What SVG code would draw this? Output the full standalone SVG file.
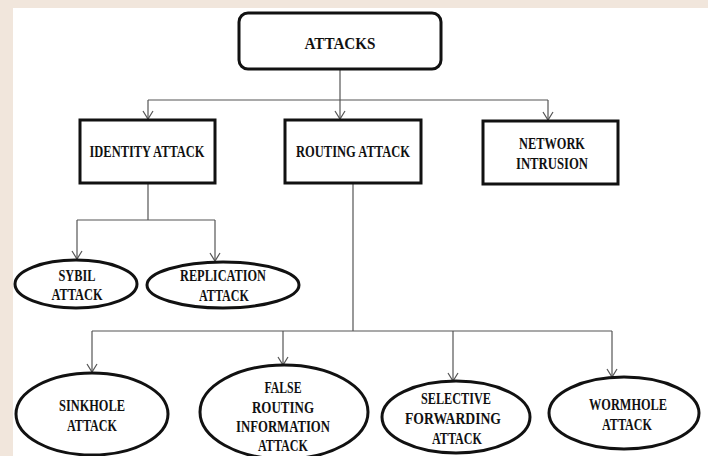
<svg xmlns="http://www.w3.org/2000/svg" width="708" height="456" viewBox="0 0 708 456">
<style>
.box{fill:#fff;stroke:#111;stroke-width:3}
.ell{fill:#fff;stroke:#111;stroke-width:3}
.ln{fill:none;stroke:#555;stroke-width:1.2}
text{font-family:"Liberation Serif","Times New Roman",serif;font-weight:bold;font-size:17px;fill:#111;text-anchor:middle;dominant-baseline:central}
</style>
<defs>
<marker id="arr" markerUnits="userSpaceOnUse" markerWidth="12" markerHeight="12" refX="10" refY="6" orient="auto" viewBox="0 0 12 12">
<path d="M2,1 L10,6 L2,11" fill="none" stroke="#555" stroke-width="1.2"/>
</marker>
</defs>
<rect x="0" y="0" width="708" height="456" fill="#f1e6dc"/>
<rect x="13" y="8" width="695" height="448" fill="#fff"/>
<g id="connectors">
<path class="ln" d="M340,69 V100"/>
<path class="ln" d="M148,100 H548"/>
<path class="ln" d="M148,100 V119" marker-end="url(#arr)"/>
<path class="ln" d="M340,100 V119" marker-end="url(#arr)"/>
<path class="ln" d="M548,100 V120" marker-end="url(#arr)"/>
<path class="ln" d="M148,184 V220 M77,220 H215"/>
<path class="ln" d="M77,220 V259" marker-end="url(#arr)"/>
<path class="ln" d="M215,220 V261" marker-end="url(#arr)"/>
<path class="ln" d="M353,184 V331 M92,331 H612"/>
<path class="ln" d="M92,331 V372" marker-end="url(#arr)"/>
<path class="ln" d="M283,331 V365" marker-end="url(#arr)"/>
<path class="ln" d="M453,331 V381" marker-end="url(#arr)"/>
<path class="ln" d="M612,331 V377" marker-end="url(#arr)"/>
</g>
<g id="attacks">
<rect class="box" x="239" y="13" width="202" height="56" rx="9"/>
<text x="340" y="43" textLength="71" lengthAdjust="spacingAndGlyphs">ATTACKS</text>
</g>
<g id="identity">
<rect class="box" x="80" y="120" width="135" height="63"/>
<text x="147" y="151" textLength="115" lengthAdjust="spacingAndGlyphs">IDENTITY ATTACK</text>
</g>
<g id="routing">
<rect class="box" x="285" y="120" width="136" height="63"/>
<text x="353" y="151" textLength="114" lengthAdjust="spacingAndGlyphs">ROUTING ATTACK</text>
</g>
<g id="network">
<rect class="box" x="483" y="121" width="135" height="63"/>
<text x="552" y="143" textLength="66" lengthAdjust="spacingAndGlyphs">NETWORK</text>
<text x="552" y="163" textLength="72" lengthAdjust="spacingAndGlyphs">INTRUSION</text>
</g>
<g id="sybil">
<ellipse class="ell" cx="76" cy="284" rx="61" ry="24"/>
<text x="77" y="275" textLength="37" lengthAdjust="spacingAndGlyphs">SYBIL</text>
<text x="77" y="294" textLength="51" lengthAdjust="spacingAndGlyphs">ATTACK</text>
</g>
<g id="replication">
<ellipse class="ell" cx="223" cy="285" rx="76" ry="23"/>
<text x="223" y="275" textLength="86" lengthAdjust="spacingAndGlyphs">REPLICATION</text>
<text x="224" y="295" textLength="50" lengthAdjust="spacingAndGlyphs">ATTACK</text>
</g>
<g id="sinkhole">
<ellipse class="ell" cx="92" cy="414" rx="76" ry="41"/>
<text x="92" y="405" textLength="66" lengthAdjust="spacingAndGlyphs">SINKHOLE</text>
<text x="92" y="425" textLength="50" lengthAdjust="spacingAndGlyphs">ATTACK</text>
</g>
<g id="false-routing">
<ellipse class="ell" cx="284" cy="412" rx="84" ry="47"/>
<text x="283" y="387" textLength="37" lengthAdjust="spacingAndGlyphs">FALSE</text>
<text x="283" y="407" textLength="62" lengthAdjust="spacingAndGlyphs">ROUTING</text>
<text x="283" y="426" textLength="94" lengthAdjust="spacingAndGlyphs">INFORMATION</text>
<text x="283" y="445" textLength="50" lengthAdjust="spacingAndGlyphs">ATTACK</text>
</g>
<g id="selective">
<ellipse class="ell" cx="456" cy="417" rx="74" ry="36"/>
<text x="456" y="398" textLength="70" lengthAdjust="spacingAndGlyphs">SELECTIVE</text>
<text x="453" y="418" textLength="96" lengthAdjust="spacingAndGlyphs">FORWARDING</text>
<text x="457" y="438" textLength="50" lengthAdjust="spacingAndGlyphs">ATTACK</text>
</g>
<g id="wormhole">
<ellipse class="ell" cx="624" cy="413" rx="75" ry="36"/>
<text x="628" y="404" textLength="78" lengthAdjust="spacingAndGlyphs">WORMHOLE</text>
<text x="627" y="424" textLength="50" lengthAdjust="spacingAndGlyphs">ATTACK</text>
</g>
</svg>
